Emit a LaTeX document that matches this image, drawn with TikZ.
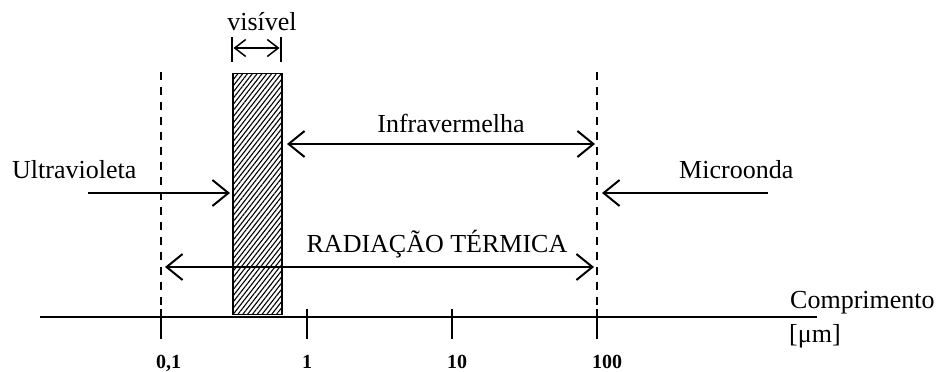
\documentclass[tikz,border=0pt]{standalone}
\usepackage{fontspec}
\setmainfont{Liberation Serif}
\usetikzlibrary{arrows.meta,patterns.meta}
\begin{document}
\begin{tikzpicture}[x=1pt,y=-1pt,
  lbl/.style={inner sep=0pt,anchor=base,font=\fontsize{26}{28}\selectfont},
  num/.style={inner sep=0pt,anchor=base west,font=\fontsize{20}{21}\selectfont\bfseries},
  arr/.style={line width=2.2pt,{Straight Barb[length=16pt,width=26pt,line width=2pt]}-{Straight Barb[length=16pt,width=26pt,line width=2pt]}},
  arrR/.style={line width=2.2pt,-{Straight Barb[length=16pt,width=26pt,line width=2pt]}},
  smallarr/.style={line width=1.6pt,{Straight Barb[length=11pt,width=17pt,line width=1.5pt]}-{Straight Barb[length=11pt,width=17pt,line width=1.5pt]}},
  dashline/.style={line width=1.3pt,dash pattern=on 8pt off 7pt},
  axisline/.style={line width=1.4pt},
  tickline/.style={line width=1.4pt}]
\useasboundingbox (0,0) rectangle (940,372);
% hatched visible band
\node[draw,line width=1.2pt,inner sep=0pt,minimum width=49pt,minimum height=241pt,
  pattern={Lines[angle=52,distance=3.8pt,line width=1.1pt]},anchor=north west] (band) at (232.5,73) {};
% dashed lines
\coordinate (d1t) at (161,72);
\coordinate (d1b) at (161,312);
\coordinate (d2t) at (597,72);
\coordinate (d2b) at (597,312);
\draw[dashline] (d1t) -- (d1b);
\draw[dashline] (d2t) -- (d2b);
% axis
\coordinate (axL) at (40,317);
\coordinate (axR) at (817,317);
\draw[axisline] (axL) -- (axR);
\foreach \x/\n/\t in {161/a/{0,1},307/b/1,452/c/10,597/d/100}{
  \coordinate (t\n a) at (\x,309);
  \coordinate (t\n b) at (\x,339);
  \draw[tickline] (t\n a) -- (t\n b);
  \node[num] (n\n) at (\x-5,368) {\t};
}
\node[lbl,anchor=base west] (comp) at (790,308) {Comprimento};
\node[lbl,anchor=base west] (um) at (789,342) {[μm]};
% visible
\node[lbl] (vis) at (262,30) {visível};
\coordinate (v1t) at (232,37); \coordinate (v1b) at (232,62);
\coordinate (v2t) at (281,37); \coordinate (v2b) at (281,62);
\draw[line width=1.4pt] (v1t) -- (v1b);
\draw[line width=1.4pt] (v2t) -- (v2b);
\coordinate (vl) at (233.5,48); \coordinate (vr) at (279.5,48);
\draw[smallarr] (vl) -- (vr);
% infravermelha
\node[lbl] (ir) at (451,132) {Infravermelha};
\coordinate (irl) at (287,144); \coordinate (irr) at (595,144);
\draw[arr] (irl) -- (irr);
% ultravioleta
\node[lbl,anchor=base west] (uv) at (12,178) {Ultravioleta};
\coordinate (uvs) at (88,193); \coordinate (uve) at (230,193);
\draw[arrR] (uvs) -- (uve);
% microonda
\node[lbl,anchor=base west] (mw) at (679,178) {Microonda};
\coordinate (mws) at (768,193); \coordinate (mwe) at (602,193);
\draw[arrR] (mws) -- (mwe);
% radiacao termica
\node[lbl] (rt) at (437,252) {RADIAÇÃO TÉRMICA};
\coordinate (rtl) at (165,267); \coordinate (rtr) at (594,267);
\draw[arr] (rtl) -- (rtr);
\end{tikzpicture}
\end{document}
